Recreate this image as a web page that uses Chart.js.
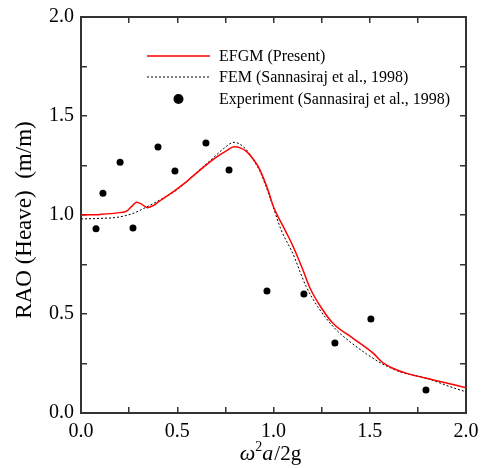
<!DOCTYPE html>
<html><head><meta charset="utf-8">
<script src="https://cdn.jsdelivr.net/npm/chart.js@4/dist/chart.umd.min.js"></script>
<style>
html,body{margin:0;padding:0;background:#fff;overflow:hidden}
#wrap{position:relative;width:481px;height:468px}
#frame{position:absolute;box-sizing:border-box;border:1.5px solid #333;pointer-events:none;display:none}
</style>
</head><body>
<div id="wrap"><canvas id="c" width="481" height="468"></canvas><div id="frame"></div></div>
<script>
// ---- data ----
const efgmX = [0.00,0.10,0.20,0.237,0.265,0.289,0.315,0.345,0.38,0.41,0.48,0.55,0.618,0.70,0.757,0.795,0.83,0.861,0.90,0.93,0.97,1.00,1.06,1.10,1.15,1.19,1.25,1.31,1.415,1.519,1.562,1.623,1.692,1.83,2.00];
const efgmY = [1.000,1.003,1.012,1.020,1.045,1.065,1.055,1.037,1.050,1.072,1.118,1.170,1.227,1.290,1.325,1.345,1.338,1.320,1.275,1.227,1.130,1.042,0.924,0.845,0.730,0.630,0.529,0.452,0.376,0.301,0.259,0.225,0.200,0.167,0.128];
const femX = [0.00,0.10,0.185,0.27,0.34,0.41,0.497,0.618,0.70,0.74,0.795,0.852,0.90,0.93,0.98,1.04,1.10,1.17,1.23,1.31,1.397,1.484,1.562,1.657,1.796,1.917,2.00];
const femY = [0.980,0.983,0.988,1.008,1.040,1.076,1.126,1.230,1.300,1.335,1.367,1.337,1.270,1.220,1.093,0.924,0.806,0.638,0.537,0.436,0.360,0.298,0.250,0.208,0.175,0.133,0.107];
const expX = [0.078,0.114,0.203,0.270,0.400,0.488,0.649,0.769,0.966,1.158,1.319,1.506,1.792];
const expY = [0.930,1.110,1.267,0.934,1.343,1.222,1.364,1.227,0.616,0.601,0.354,0.475,0.116];
const seriesNames = ["EFGM (Present)","FEM (Sannasiraj et al., 1998)","Experiment (Sannasiraj et al., 1998)"];
const majorTicks = [0,0.5,1.0,1.5,2.0];
const minorTicks = [0,0.25,0.5,0.75,1.0,1.25,1.5,1.75,2.0];
const yTitle = "RAO (Heave)  (m/m)";

const pts = (xs, ys) => xs.map((x, i) => ({x: x, y: ys[i]}));
const SERIF = "'Liberation Serif', serif";
const AX = '#333333';

const labelFor = v => majorTicks.some(m => Math.abs(m - v) < 1e-9) ? Number(v).toFixed(1) : '';
const setTicks = s => { s.ticks = minorTicks.map(v => ({value: v})); };

function axis(position, showLabels, size) {
  const horiz = position === 'top' || position === 'bottom';
  return {
    type: 'linear', position: position, min: 0, max: 2,
    border: {display: true, color: AX, width: 2},
    grid: {display: true, drawOnChartArea: false, drawTicks: true, tickLength: -6, color: AX, lineWidth: 1.5},
    afterBuildTicks: setTicks,
    afterFit: s => {
      if (horiz) { s.height = size; s.paddingLeft = 0; s.paddingRight = 0; }
      else { s.width = size; s.paddingTop = 0; s.paddingBottom = 0; }
    },
    ticks: {
      display: showLabels, autoSkip: false, maxRotation: 0, color: '#000',
      font: {family: SERIF, size: 20}, padding: 13, callback: labelFor
    }
  };
}

const textPlugin = {
  id: 'texts',
  afterDraw(chart) {
    const ctx = chart.ctx;
    const a = chart.chartArea;
    ctx.save();
    // legend
    const lx0 = a.left + 66, lx1 = a.left + 129, tx = a.left + 138;
    const rows = [a.top + 39, a.top + 60, a.top + 82];
    ctx.lineWidth = 1.5;
    ctx.strokeStyle = '#ff0000';
    ctx.beginPath(); ctx.moveTo(lx0, rows[0]); ctx.lineTo(lx1, rows[0]); ctx.stroke();
    ctx.strokeStyle = '#000000';
    ctx.lineWidth = 1;
    ctx.setLineDash([2, 2]);
    ctx.beginPath(); ctx.moveTo(lx0, rows[1]); ctx.lineTo(lx1, rows[1]); ctx.stroke();
    ctx.setLineDash([]);
    ctx.fillStyle = '#000000';
    ctx.beginPath(); ctx.arc((lx0 + lx1) / 2, rows[2], 5, 0, Math.PI * 2); ctx.fill();
    ctx.font = "16px " + SERIF;
    ctx.textBaseline = 'middle';
    ctx.textAlign = 'left';
    seriesNames.forEach((n, i) => ctx.fillText(n, tx, rows[i] + 1));

    // y title
    ctx.save();
    ctx.translate(25, 220);
    ctx.rotate(-Math.PI / 2);
    ctx.font = "23px " + SERIF;
    ctx.textAlign = 'center';
    ctx.textBaseline = 'middle';
    ctx.fillText(yTitle, 0, 0);
    ctx.restore();

    // x title: ω² a / 2g
    const parts = [
      {t: 'ω', f: "italic 22px " + SERIF, dy: 0},
      {t: '2', f: "14px " + SERIF, dy: -9},
      {t: 'a', f: "italic 22px " + SERIF, dy: 0},
      {t: '/2g', f: "21px " + SERIF, dy: 0}
    ];
    let w = 0;
    parts.forEach(p => { ctx.font = p.f; p.w = ctx.measureText(p.t).width; w += p.w; });
    let cx = 270 - w / 2;
    const base = 460;
    ctx.textBaseline = 'alphabetic';
    parts.forEach(p => { ctx.font = p.f; ctx.fillText(p.t, cx, base + p.dy); cx += p.w + (p.t === 'a' ? 1 : 0); });
    ctx.restore();

    // frame overlay placed from the library's chart area
    const f = document.getElementById('frame');
    f.style.left = (a.left - 0.75) + 'px';
    f.style.top = (a.top - 0.75) + 'px';
    f.style.width = (a.right - a.left + 1.5) + 'px';
    f.style.height = (a.bottom - a.top + 1.5) + 'px';
    f.style.display = 'block';
  }
};

new Chart(document.getElementById('c'), {
  type: 'scatter',
  data: {
    datasets: [
      {label: seriesNames[0], data: pts(efgmX, efgmY), showLine: true, borderColor: '#ff0000', borderWidth: 1.5, pointRadius: 0, cubicInterpolationMode: 'monotone', order: 2, xAxisID: 'x', yAxisID: 'y'},
      {label: seriesNames[1], data: pts(femX, femY), showLine: true, borderColor: '#000', borderWidth: 1, borderDash: [2, 2], pointRadius: 0, cubicInterpolationMode: 'monotone', order: 3, xAxisID: 'x', yAxisID: 'y'},
      {label: seriesNames[2], data: pts(expX, expY), showLine: false, pointRadius: 3.5, pointBackgroundColor: '#000', pointBorderColor: '#000', pointBorderWidth: 0, order: 1, xAxisID: 'x', yAxisID: 'y'}
    ]
  },
  options: {
    responsive: false,
    animation: false,
    devicePixelRatio: 1,
    layout: {padding: 0},
    plugins: {legend: {display: false}, tooltip: {enabled: false}},
    scales: {
      x: axis('bottom', true, 55),
      x2: axis('top', false, 17),
      y: axis('left', true, 81),
      y2: axis('right', false, 15)
    }
  },
  plugins: [textPlugin]
});
</script>
</body></html>
